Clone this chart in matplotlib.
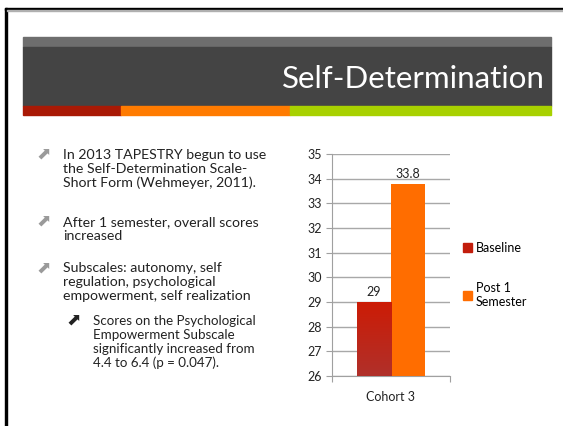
import matplotlib
matplotlib.use("Agg")
import matplotlib.pyplot as plt
import matplotlib.patches as mpatches
import numpy as np

# data
group = "Cohort 3"
series = ["Baseline", "Post 1\nSemester"]
values = [29, 33.8]
value_labels = ["29", "33.8"]
yticks = [26, 27, 28, 29, 30, 31, 32, 33, 34, 35]

title = "Self-Determination"
bullets = [
    ["In 2013 TAPESTRY begun to use", "the Self-Determination Scale-", "Short Form (Wehmeyer, 2011)."],
    ["After 1 semester, overall scores", "increased"],
    ["Subscales: autonomy, self", "regulation, psychological", "empowerment, self realization"],
]
sub_bullet = ["Scores on the Psychological", "Empowerment Subscale",
              "significantly increased from", "4.4 to 6.4 (p = 0.047)."]

plt.rcParams['font.family'] = ['Lato', 'DejaVu Sans']

W, H = 563, 426
fig = plt.figure(figsize=(W / 100, H / 100), dpi=100)

# background axes in pixel coords
bg = fig.add_axes([0, 0, 1, 1])
bg.set_xlim(0, W)
bg.set_ylim(H, 0)
bg.axis('off')

# slide border
bg.add_patch(mpatches.Rectangle((5, 8), 2, H, color='black'))
bg.add_patch(mpatches.Rectangle((5, 8), W, 2.2, color='black'))
bg.add_patch(mpatches.Rectangle((7, 10.2), W, 1, color='#b0b0b0'))

# header band
bg.add_patch(mpatches.Rectangle((23, 37), 528, 10, color='#6e6e6e'))
bg.add_patch(mpatches.Rectangle((23, 47), 528, 59, color='#444444'))
bg.add_patch(mpatches.Rectangle((23, 106), 98, 9, color='#a91905'))
bg.add_patch(mpatches.Rectangle((121, 106), 169, 9, color='#ff7b00'))
bg.add_patch(mpatches.Rectangle((290, 106), 261, 9, color='#a8d100'))
bg.text(545, 79, title, color='white', fontsize=22.5, ha='right', va='center')

# bullet text
line_h = 14
y0s = [155, 222, 268.5]
for lines, y0 in zip(bullets, y0s):
    bg.text(36, y0, "\u2b08", color='#9a9a9a', fontsize=12.5, ha='left', va='center',
            family='DejaVu Sans')
    for i, ln in enumerate(lines):
        bg.text(63, y0 + i * line_h, ln, fontsize=10.2, color='#222222',
                ha='left', va='center')
bg.text(66, 321, "\u2b08", color='#222222', fontsize=12.5, ha='left', va='center',
        family='DejaVu Sans')
for i, ln in enumerate(sub_bullet):
    bg.text(93, 321 + i * line_h, ln, fontsize=9.6, color='#222222', ha='left', va='center')

# chart
ax = fig.add_axes([332 / W, (H - 376) / H, 118 / W, 222 / H])
ax.set_ylim(26, 35)
ax.set_xlim(-0.5, 0.5)
bw = 0.29
xs = [-bw / 2, bw / 2]
colors = ['#c21d0c', '#ff6d00']
bars = ax.bar(xs, [v - 26 for v in values], bottom=26, width=bw, color=colors,
              edgecolor='none', zorder=3)

# gradient on the baseline bar
b0 = bars[0]
grad = np.linspace(0, 1, 100).reshape(-1, 1)
cmap = matplotlib.colors.LinearSegmentedColormap.from_list('g', ['#b0302a', '#cc1c06'])
ax.imshow(grad, extent=[b0.get_x(), b0.get_x() + bw, 26, values[0]], origin='lower',
          cmap=cmap, aspect='auto', zorder=3.5)

for x, v, lab in zip(xs, values, value_labels):
    ax.text(x, v + 0.15, lab, ha='center', va='bottom', fontsize=9, color='#222222')

ax.set_yticks(yticks)
ax.set_yticklabels([str(t) for t in yticks], fontsize=9, color='#222222')
ax.yaxis.grid(True, color='#a8a8a8', linewidth=1)
ax.set_axisbelow(True)
ax.set_xticks([-0.5, 0.5])
ax.set_xticklabels(['', ''])
ax.set_xticks([0], minor=True)
ax.set_xticklabels([group], minor=True, fontsize=9, color='#222222')
ax.tick_params(axis='x', which='minor', length=0, pad=11)
ax.tick_params(axis='x', which='major', length=4, color='#a0a0a0')
ax.tick_params(axis='y', length=4, color='#a0a0a0', pad=3)
for s in ['top', 'right']:
    ax.spines[s].set_visible(False)
for s in ['left', 'bottom']:
    ax.spines[s].set_color('#a0a0a0')

handles = [mpatches.Patch(color=c) for c in colors]
fig.legend(handles, series, loc='upper left', bbox_to_anchor=(458 / W, (H - 237) / H),
           frameon=False, fontsize=9, handlelength=0.7, handleheight=0.7,
           handletextpad=0.3, labelspacing=2.25, borderaxespad=0)

fig.savefig('out.png', dpi=100)
